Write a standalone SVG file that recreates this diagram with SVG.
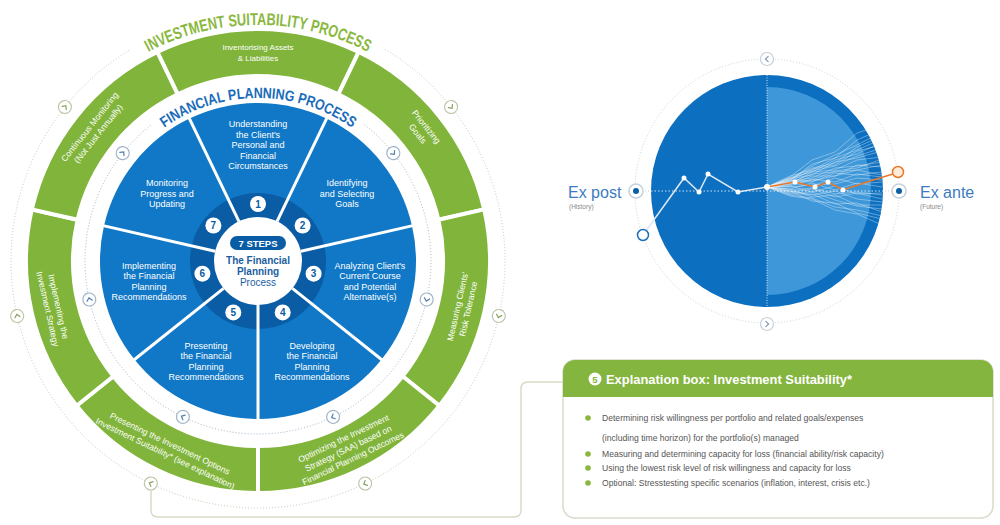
<svg xmlns="http://www.w3.org/2000/svg" width="1000" height="525" viewBox="0 0 1000 525">
<style>
text{font-family:"Liberation Sans",Arial,sans-serif}
.bl{font-size:9px;fill:#fff;text-anchor:middle}
.gl{font-size:8.6px;fill:#fff;text-anchor:middle}
.num{font-size:10px;font-weight:bold;fill:#0a5ca4;text-anchor:middle}
.blue{fill:#1078c6}
.dark{fill:#0a5ca4}
.green{fill:#80b43a;stroke:#fff;stroke-width:4}
.div{stroke:#fff;stroke-width:3}
.dotB{fill:none;stroke:#9fb4c9;stroke-dasharray:1 2;stroke-width:1}
.dotG{fill:none;stroke:#c2cbb0;stroke-dasharray:1 2;stroke-width:1}
.ex{font-size:8.6px;fill:#555}
.bul{fill:#8ab83f}
.wdot{fill:#fff}
.fan{fill:none;stroke:#fff;stroke-opacity:0.6;stroke-width:0.6}
.tg{font-size:17px;font-weight:bold;fill:#8ab83e}
.tb{font-size:15px;font-weight:bold;fill:#1a6cb8}
</style>
<defs>
<g id="icoB"><circle r="6.5" fill="#fff" stroke="#9fb4c9" stroke-width="1.2"/><path d="M-1.2,-2.6 L1.6,0 L-1.2,2.6" fill="none" stroke="#4f7fae" stroke-width="1.2" stroke-linecap="round"/></g>
<g id="icoG"><circle r="6.5" fill="#fff" stroke="#bcc7a9" stroke-width="1.2"/><path d="M-1.2,-2.6 L1.6,0 L-1.2,2.6" fill="none" stroke="#8aa060" stroke-width="1.2" stroke-linecap="round"/></g>
<g id="icoR"><circle r="6.5" fill="#fff" stroke="#c5d0da" stroke-width="1.2"/><path d="M-1.2,-2.6 L1.6,0 L-1.2,2.6" fill="none" stroke="#7f9ab5" stroke-width="1.2" stroke-linecap="round"/></g>
<g id="nodeR"><circle r="7" fill="#fff" stroke="#c5d0da" stroke-width="1.5"/><circle r="3" fill="#0c5fa6"/></g>
<path id="arcOuter" d="M36.2,180.3 A236,236 0 0 1 479.8,180.3"/>
<path id="arcInner" d="M104.8,205.3 A163,163 0 0 1 411.2,205.3"/>
<clipPath id="disk2"><circle cx="767" cy="191" r="116"/></clipPath>
<clipPath id="rhalf"><rect x="767" y="60" width="140" height="270"/></clipPath>
</defs>

<rect width="1000" height="525" fill="#fff"/>

<g id="titles">
<text class="tg"><textPath href="#arcOuter" startOffset="215" text-anchor="middle" textLength="81.4" lengthAdjust="spacingAndGlyphs">INVESTMENT</textPath></text>
<text class="tg"><textPath href="#arcOuter" startOffset="298.1" text-anchor="middle" textLength="77.9" lengthAdjust="spacingAndGlyphs">SUITABILITY</textPath></text>
<text class="tg"><textPath href="#arcOuter" startOffset="371.5" text-anchor="middle" textLength="61.8" lengthAdjust="spacingAndGlyphs">PROCESS</textPath></text>
<text class="tb"><textPath href="#arcInner" startOffset="132.7" text-anchor="middle" textLength="67.1" lengthAdjust="spacingAndGlyphs">FINANCIAL</textPath></text>
<text class="tb"><textPath href="#arcInner" startOffset="202.3" text-anchor="middle" textLength="65.1" lengthAdjust="spacingAndGlyphs">PLANNING</textPath></text>
<text class="tb"><textPath href="#arcInner" startOffset="268.8" text-anchor="middle" textLength="60.9" lengthAdjust="spacingAndGlyphs">PROCESS</textPath></text>
</g>

<g id="rings">
<path class="dotG" d="M385.2,49.3 A247,247 0 1 1 130.8,49.3"/>
<path class="dotB" d="M364.5,124.7 A173,173 0 1 1 151.5,124.7"/>
</g>

<g id="connectors">
<path d="M151,491 V510 Q151,517 158,517 H514 Q521,517 521,510 V389 Q521,382 528,382 H563" fill="none" stroke="#d5dcc7" stroke-width="1.5"/>
</g>

<g id="g-inventorising">
<path class="green" d="M157.3,52 A232,232 0 0 1 358.7,52 L338.3,94.3 A185,185 0 0 0 177.7,94.3 Z"/>
<g transform="translate(258,52)"><text class="gl" style="font-size:8px" y="-2.3">Inventorising Assets</text><text class="gl" style="font-size:8px" y="8.7">&amp; Liabilities</text></g>
</g>
<g id="g-prioritizing">
<path class="green" d="M358.7,52 A232,232 0 0 1 484.2,209.4 L438.4,219.8 A185,185 0 0 0 338.3,94.3 Z"/>
<g transform="translate(422.2,130.1) rotate(51.43)"><text class="gl" y="-2.3">Prioritizing</text><text class="gl" y="8.7">Goals</text></g>
</g>
<g id="g-measuring">
<path class="green" d="M484.2,209.4 A232,232 0 0 1 439.4,405.7 L402.6,376.3 A185,185 0 0 0 438.4,219.8 Z"/>
<g transform="translate(462.7,307.7) rotate(-77.14)"><text class="gl" y="-2.3">Measuring Clients'</text><text class="gl" y="8.7">Risk Tolerance</text></g>
</g>
<g id="g-optimizing">
<path class="green" d="M439.4,405.7 A232,232 0 0 1 258,493 L258,446 A185,185 0 0 0 402.6,376.3 Z"/>
<g transform="translate(348.3,448.4) rotate(-25.71)"><text class="gl" y="-8">Optimizing the Investment</text><text class="gl" y="3">Strategy (SAA) based on</text><text class="gl" y="14">Financial Planning Outcomes</text></g>
</g>
<g id="g-presenting">
<path class="green" d="M258,493 A232,232 0 0 1 76.6,405.7 L113.4,376.3 A185,185 0 0 0 258,446 Z"/>
<g transform="translate(167.7,448.4) rotate(25.71)"><text class="gl" y="-2.3">Presenting the Investment Options</text><text class="gl" y="8.7">Investment Suitability* (see explanation)</text></g>
</g>
<g id="g-implementing">
<path class="green" d="M76.6,405.7 A232,232 0 0 1 31.8,209.4 L77.6,219.8 A185,185 0 0 0 113.4,376.3 Z"/>
<g transform="translate(53.3,307.7) rotate(77.14)"><text class="gl" y="-2.3">Implementing the</text><text class="gl" y="8.7">Investment Strategy</text></g>
</g>
<g id="g-monitoring">
<path class="green" d="M31.8,209.4 A232,232 0 0 1 157.3,52 L177.7,94.3 A185,185 0 0 0 77.6,219.8 Z"/>
<g transform="translate(93.8,130.1) rotate(-51.43)"><text class="gl" y="-2.3">Continuous Monitoring</text><text class="gl" y="8.7">(Not Just Annually)</text></g>
</g>

<g id="s1">
<path class="blue" d="M258,261 L189.4,118.6 A158,158 0 0 1 326.6,118.6 Z"/>
<path class="dark" d="M258,261 L228.5,199.7 A68,68 0 0 1 287.5,199.7 Z"/>
<text class="bl" x="258" y="127">Understanding</text><text class="bl" x="258" y="137.5">the Client's</text><text class="bl" x="258" y="148">Personal and</text><text class="bl" x="258" y="158.5">Financial</text><text class="bl" x="258" y="169">Circumstances</text>
<circle cx="258" cy="204" r="8" fill="#fff"/><text class="num" x="258" y="207.6">1</text>
</g>
<g id="s2">
<path class="blue" d="M258,261 L326.6,118.6 A158,158 0 0 1 412,225.8 Z"/>
<path class="dark" d="M258,261 L287.5,199.7 A68,68 0 0 1 324.3,245.9 Z"/>
<text class="bl" x="347" y="186">Identifying</text><text class="bl" x="347" y="196.5">and Selecting</text><text class="bl" x="347" y="207">Goals</text>
<circle cx="302.6" cy="225.5" r="8" fill="#fff"/><text class="num" x="302.6" y="229.1">2</text>
</g>
<g id="s3">
<path class="blue" d="M258,261 L412,225.8 A158,158 0 0 1 381.5,359.5 Z"/>
<path class="dark" d="M258,261 L324.3,245.9 A68,68 0 0 1 311.2,303.4 Z"/>
<text class="bl" x="370" y="268.5">Analyzing Client's</text><text class="bl" x="370" y="279">Current Course</text><text class="bl" x="370" y="289.5">and Potential</text><text class="bl" x="370" y="300">Alternative(s)</text>
<circle cx="313.6" cy="273.7" r="8" fill="#fff"/><text class="num" x="313.6" y="277.3">3</text>
</g>
<g id="s4">
<path class="blue" d="M258,261 L381.5,359.5 A158,158 0 0 1 258,419 Z"/>
<path class="dark" d="M258,261 L311.2,303.4 A68,68 0 0 1 258,329 Z"/>
<text class="bl" x="312" y="348.5">Developing</text><text class="bl" x="312" y="359">the Financial</text><text class="bl" x="312" y="369.5">Planning</text><text class="bl" x="312" y="380">Recommendations</text>
<circle cx="282.7" cy="312.4" r="8" fill="#fff"/><text class="num" x="282.7" y="316">4</text>
</g>
<g id="s5">
<path class="blue" d="M258,261 L258,419 A158,158 0 0 1 134.5,359.5 Z"/>
<path class="dark" d="M258,261 L258,329 A68,68 0 0 1 204.8,303.4 Z"/>
<text class="bl" x="206" y="348.5">Presenting</text><text class="bl" x="206" y="359">the Financial</text><text class="bl" x="206" y="369.5">Planning</text><text class="bl" x="206" y="380">Recommendations</text>
<circle cx="233.3" cy="312.4" r="8" fill="#fff"/><text class="num" x="233.3" y="316">5</text>
</g>
<g id="s6">
<path class="blue" d="M258,261 L134.5,359.5 A158,158 0 0 1 104,225.8 Z"/>
<path class="dark" d="M258,261 L204.8,303.4 A68,68 0 0 1 191.7,245.9 Z"/>
<text class="bl" x="149" y="268.5">Implementing</text><text class="bl" x="149" y="279">the Financial</text><text class="bl" x="149" y="289.5">Planning</text><text class="bl" x="149" y="300">Recommendations</text>
<circle cx="202.4" cy="273.7" r="8" fill="#fff"/><text class="num" x="202.4" y="277.3">6</text>
</g>
<g id="s7">
<path class="blue" d="M258,261 L104,225.8 A158,158 0 0 1 189.4,118.6 Z"/>
<path class="dark" d="M258,261 L191.7,245.9 A68,68 0 0 1 228.5,199.7 Z"/>
<text class="bl" x="167" y="186">Monitoring</text><text class="bl" x="167" y="196.5">Progress and</text><text class="bl" x="167" y="207">Updating</text>
<circle cx="213.4" cy="225.5" r="8" fill="#fff"/><text class="num" x="213.4" y="229.1">7</text>
</g>

<g id="dividers">
<line class="div" x1="258" y1="217" x2="258" y2="101" transform="rotate(-25.71 258 261)"/>
<line class="div" x1="258" y1="217" x2="258" y2="101" transform="rotate(25.71 258 261)"/>
<line class="div" x1="258" y1="217" x2="258" y2="101" transform="rotate(77.14 258 261)"/>
<line class="div" x1="258" y1="217" x2="258" y2="101" transform="rotate(128.57 258 261)"/>
<line class="div" x1="258" y1="217" x2="258" y2="101" transform="rotate(180 258 261)"/>
<line class="div" x1="258" y1="217" x2="258" y2="101" transform="rotate(231.43 258 261)"/>
<line class="div" x1="258" y1="217" x2="258" y2="101" transform="rotate(282.86 258 261)"/>
</g>

<g id="center">
<circle cx="258" cy="261" r="44" fill="#fff"/>
<rect x="230" y="236" width="56" height="14" rx="7" class="dark"/>
<text x="258" y="246.5" font-size="9.5" font-weight="bold" fill="#fff" text-anchor="middle">7 STEPS</text>
<text x="258" y="264" font-size="10" font-weight="bold" fill="#1b5e9f" text-anchor="middle">The Financial</text>
<text x="258" y="275" font-size="10" font-weight="bold" fill="#1b5e9f" text-anchor="middle">Planning</text>
<text x="258" y="286" font-size="10" fill="#1b5e9f" text-anchor="middle">Process</text>
</g>

<g id="icons">
<use href="#icoB" transform="translate(393.3,153.1) rotate(51.43)"/>
<use href="#icoB" transform="translate(426.7,299.5) rotate(102.86)"/>
<use href="#icoB" transform="translate(333.1,416.9) rotate(154.29)"/>
<use href="#icoB" transform="translate(182.9,416.9) rotate(205.71)"/>
<use href="#icoB" transform="translate(89.3,299.5) rotate(257.14)"/>
<use href="#icoB" transform="translate(122.7,153.1) rotate(308.57)"/>
<use href="#icoG" transform="translate(451.1,107) rotate(51.43)"/>
<use href="#icoG" transform="translate(498.8,316) rotate(102.86)"/>
<use href="#icoG" transform="translate(365.2,483.5) rotate(154.29)"/>
<use href="#icoG" transform="translate(150.8,483.5) rotate(205.71)"/>
<use href="#icoG" transform="translate(17.2,316) rotate(257.14)"/>
<use href="#icoG" transform="translate(64.9,107) rotate(308.57)"/>
</g>

<g id="ex-post-ante">
<circle cx="767" cy="191" r="132" fill="none" stroke="#c8d2dc" stroke-dasharray="1 2"/>
<line x1="636" y1="191" x2="899" y2="191" stroke="#c8d2dc" stroke-dasharray="1 2"/>
<circle cx="767" cy="191" r="116" fill="#0c6fbf"/>
<circle cx="767" cy="191" r="104" fill="#3d97d9" clip-path="url(#rhalf)"/>
<g clip-path="url(#disk2)">
<polyline class="fan" points="767,187 790,177 812,160 835,152 857,133 882,125"/>
<polyline class="fan" points="767,187 790,180 812,166 835,155 857,145 882,132"/>
<polyline class="fan" points="767,187 790,176 812,170 835,158 857,150 882,139"/>
<polyline class="fan" points="767,187 790,182 812,169 835,165 857,151 882,145"/>
<polyline class="fan" points="767,187 790,179 812,175 835,162 857,158 882,151"/>
<polyline class="fan" points="767,187 790,184 812,172 835,170 857,160 882,157"/>
<polyline class="fan" points="767,187 790,181 812,178 835,168 857,166 882,162"/>
<polyline class="fan" points="767,187 790,185 812,176 835,176 857,165 882,167"/>
<polyline class="fan" points="767,187 790,182 812,182 835,173 857,175 882,172"/>
<polyline class="fan" points="767,187 790,186 812,179 835,182 857,174 882,177"/>
<polyline class="fan" points="767,187 790,183 812,186 835,178 857,184 882,182"/>
<polyline class="fan" points="767,187 790,189 812,183 835,190 857,183 882,187"/>
<polyline class="fan" points="767,187 790,186 812,192 835,186 857,194 882,193"/>
<polyline class="fan" points="767,187 790,192 812,189 835,197 857,193 882,199"/>
<polyline class="fan" points="767,187 790,189 812,197 835,195 857,205 882,205"/>
<polyline class="fan" points="767,187 790,194 812,194 835,204 857,203 882,212"/>
<polyline class="fan" points="767,187 790,191 812,201 835,203 857,213 882,219"/>
<polyline class="fan" points="767,187 790,196 812,199 835,210 857,214 882,225"/>
<polyline class="fan" points="767,187 790,178 812,172 835,160 857,154 882,142"/>
<polyline class="fan" points="767,187 790,183 812,174 835,172 857,170 882,165"/>
<polyline class="fan" points="767,187 790,181 812,164 835,158 857,140 882,129"/>
<polyline class="fan" points="767,187 790,190 812,188 835,194 857,192 882,195"/>
<polyline class="fan" points="767,187 790,180 812,181 835,176 857,170 882,175"/>
<polyline class="fan" points="767,187 790,193 812,192 835,200 857,206 882,209"/>
<polyline class="fan" points="767,187 790,178 812,168 835,163 857,147 882,136"/>
<polyline class="fan" points="767,187 790,184 812,180 835,171 857,168 882,159"/>
<polyline class="fan" points="767,187 790,187 812,185 835,184 857,178 882,180"/>
<polyline class="fan" points="767,187 790,191 812,195 835,191 857,199 882,202"/>
<polyline class="fan" points="767,187 790,195 812,198 835,207 857,210 882,216"/>
<polyline class="fan" points="767,187 790,179 812,171 835,166 857,156 882,148"/>
<line x1="651" y1="191" x2="883" y2="191" stroke="#fff" stroke-opacity="0.8" stroke-dasharray="1.5 2"/>
<line x1="767" y1="75" x2="767" y2="307" stroke="#fff" stroke-opacity="0.8" stroke-dasharray="1 1.5"/>
</g>
<polyline points="643,235 684,178 699,192 708,174 738,192 767,187" fill="none" stroke="#dfe8f2" stroke-width="1.5"/>
<circle cx="684" cy="178" r="2.5" class="wdot"/><circle cx="699" cy="192" r="2.5" class="wdot"/><circle cx="708" cy="174" r="2.5" class="wdot"/><circle cx="738" cy="192" r="2.5" class="wdot"/>
<polyline points="767,187 795,182 815,187 828,182 843,190 870,181 893,174" fill="none" stroke="#e8792a" stroke-width="1.5"/>
<circle cx="795" cy="182" r="2.5" class="wdot"/><circle cx="815" cy="187" r="2.5" class="wdot"/><circle cx="828" cy="182" r="2.5" class="wdot"/><circle cx="843" cy="190" r="2.5" class="wdot"/>
<circle cx="767" cy="187" r="3" class="wdot"/>
<circle cx="643" cy="235" r="5.5" fill="#fff" stroke="#1a70b8" stroke-width="1.5"/>
<circle cx="898" cy="172" r="5.5" fill="#fdebdc" stroke="#e8792a" stroke-width="1.5"/>
<use href="#nodeR" x="636" y="191"/>
<use href="#nodeR" x="899" y="191"/>
<use href="#icoR" transform="translate(767,59) rotate(180)"/>
<use href="#icoR" transform="translate(767,324)"/>
<text x="568" y="198" font-size="16" fill="#3d7cc0">Ex post</text>
<text x="569" y="209" font-size="6.5" fill="#888">(History)</text>
<text x="920" y="198" font-size="16" fill="#3d7cc0">Ex ante</text>
<text x="920" y="209" font-size="6.5" fill="#888">(Future)</text>
</g>

<g id="explanation">
<rect x="563" y="360" width="430" height="158" rx="12" fill="#fff" stroke="#d7dbc9" stroke-width="1.5"/>
<path d="M563,397 V372 A12,12 0 0 1 575,360 H981 A12,12 0 0 1 993,372 V397 Z" fill="#84b53e"/>
<circle cx="595" cy="379" r="6.5" fill="#fff"/>
<text x="595" y="382.5" font-size="9.5" font-weight="bold" fill="#84b53e" text-anchor="middle">5</text>
<text x="606" y="384" font-size="12" font-weight="bold" fill="#fff" textLength="246" lengthAdjust="spacingAndGlyphs">Explanation box: Investment Suitability*</text>
<circle cx="588" cy="418" r="2.8" class="bul"/>
<circle cx="588" cy="454" r="2.8" class="bul"/>
<circle cx="588" cy="468" r="2.8" class="bul"/>
<circle cx="588" cy="483" r="2.8" class="bul"/>
<text class="ex" x="602" y="421">Determining risk willingness per portfolio and related goals/expenses</text>
<text class="ex" x="602" y="441">(including time horizon) for the portfolio(s) managed</text>
<text class="ex" x="602" y="457">Measuring and determining capacity for loss (financial ability/risk capacity)</text>
<text class="ex" x="602" y="471">Using the lowest risk level of risk willingness and capacity for loss</text>
<text class="ex" x="602" y="486">Optional: Stresstesting specific scenarios (inflation, interest, crisis etc.)</text>
</g>
</svg>
